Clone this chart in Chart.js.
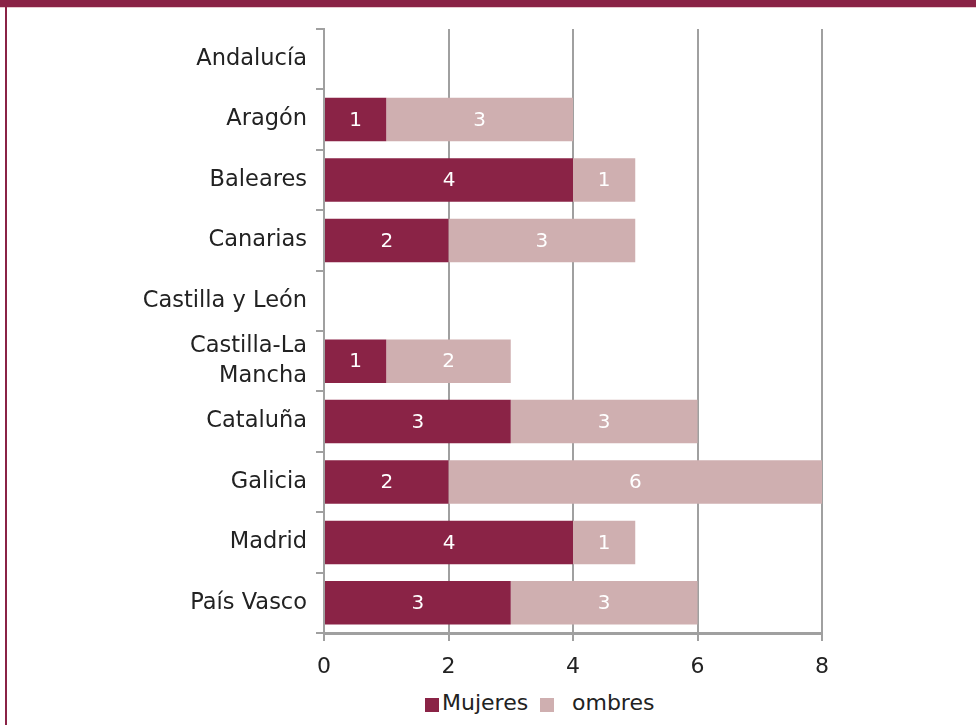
<!DOCTYPE html>
<html>
<head>
<meta charset="utf-8">
<script src="https://cdn.jsdelivr.net/npm/chart.js@4.4.0/dist/chart.umd.min.js"></script>
<style>
  body { margin: 0; background: #fff; width: 976px; height: 725px; overflow: hidden; position: relative; font-family: "DejaVu Sans", sans-serif; }
  #band { position: absolute; left: 0; top: 0; width: 976px; height: 7px; background: #8a2346; border-bottom: 1px solid #e8c8cf; }
  #edge { position: absolute; left: 5px; top: 0; width: 2px; height: 725px; background: #8a2346; }
  #wrap { position: absolute; left: 0; top: 0; width: 976px; height: 680px; }
  #legend { position: absolute; top: 690px; left: 0; width: 976px; font-size: 22px; color: #222; }
  #legend span { position: absolute; }
  .box { width: 14px; height: 14px; top: 8px; }
</style>
</head>
<body>
<div id="band"></div>
<div id="edge"></div>
<div id="wrap"><canvas id="chart"></canvas></div>
<div id="legend"></div>
<script>
const regiones = ["Andalucía", "Aragón", "Baleares", "Canarias", "Castilla y León", ["Castilla-La", "Mancha"], "Cataluña", "Galicia", "Madrid", "País Vasco"];
const mujeres = [null, 1, 4, 2, null, 1, 3, 2, 4, 3];
const hombres = [null, 3, 1, 3, null, 2, 3, 6, 1, 3];
const ejeX = [0, 2, 4, 6, 8];

const colMujeres = "#8a2346";
const colHombres = "#cfafb0";
const gris = "#a0a0a0";

// white value labels inside each bar segment
const etiquetas = {
  id: "etiquetas",
  afterDatasetsDraw(chart) {
    const ctx = chart.ctx;
    ctx.save();
    ctx.fillStyle = "#fff";
    ctx.font = "20px 'DejaVu Sans'";
    ctx.textAlign = "center";
    ctx.textBaseline = "middle";
    chart.data.datasets.forEach((ds, i) => {
      chart.getDatasetMeta(i).data.forEach((bar, j) => {
        const v = ds.data[j];
        if (v == null) return;
        ctx.fillText(String(v), (bar.x + bar.base) / 2, bar.y + 1);
      });
    });
    ctx.restore();
  }
};

new Chart(document.getElementById("chart"), {
  type: "bar",
  data: {
    labels: regiones,
    datasets: [
      { label: "Mujeres", data: mujeres, backgroundColor: colMujeres },
      { label: "ombres", data: hombres, backgroundColor: colHombres }
    ]
  },
  options: {
    indexAxis: "y",
    responsive: true,
    maintainAspectRatio: false,
    animation: false,
    layout: { padding: { top: 29, right: 154 } },
    datasets: { bar: { barPercentage: 0.72, categoryPercentage: 1 } },
    plugins: { legend: { display: false }, tooltip: { enabled: false } },
    scales: {
      x: {
        stacked: true,
        min: 0, max: 8,
        afterBuildTicks: s => { s.ticks = ejeX.map(v => ({ value: v })); },
        afterFit: s => { s.height = 47; },
        grid: { color: gris, lineWidth: 2, tickLength: 8 },
        border: { color: gris, width: 3 },
        ticks: { color: "#222", font: { family: "DejaVu Sans", size: 22 }, padding: 13 }
      },
      y: {
        stacked: true,
        afterFit: s => { s.width = 324; },
        grid: { offset: true, drawOnChartArea: false, color: gris, lineWidth: 2, tickLength: 8 },
        border: { color: gris, width: 2 },
        ticks: { autoSkip: false, color: "#222", font: { family: "DejaVu Sans", size: 22.5, lineHeight: 1.3 }, padding: 9 }
      }
    }
  },
  plugins: [etiquetas]
});

document.getElementById("legend").innerHTML =
  '<span class="box" style="left:425px;background:' + colMujeres + '"></span>' +
  '<span style="left:442px">Mujeres</span>' +
  '<span class="box" style="left:540px;background:' + colHombres + '"></span>' +
  '<span style="left:572px">ombres</span>';
</script>
</body>
</html>
